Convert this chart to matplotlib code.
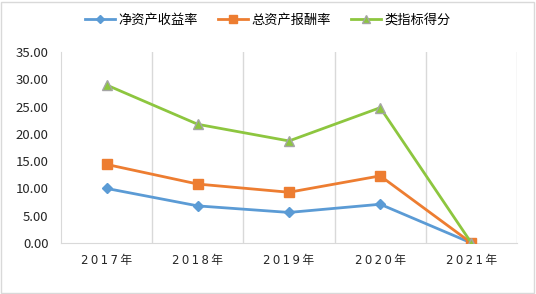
import matplotlib
matplotlib.use("Agg")
import matplotlib.pyplot as plt
from matplotlib.patches import Rectangle

plt.rcParams['font.family'] = ['Noto Sans CJK SC', 'DejaVu Sans']

years = ["2017年", "2018年", "2019年", "2020年", "2021年"]
roe = [10.0, 6.8, 5.6, 7.1, 0.0]
roa = [14.4, 10.8, 9.3, 12.3, 0.0]
score = [28.95, 21.75, 18.7, 24.8, 0.0]

fig = plt.figure(figsize=(5.36, 2.94), dpi=100)
fig.patches.append(Rectangle((0.002, 0.004), 0.994, 0.99, transform=fig.transFigure,
                             fill=False, edgecolor="#d9d9d9", linewidth=1))
ax = fig.add_axes([61 / 536, 1 - 243 / 294, (517 - 61) / 536, (243 - 52) / 294])

x = range(len(years))
ax.plot(x, roe, color="#5B9BD5", lw=2, marker="D", ms=5, label="净资产收益率", zorder=3)
ax.plot(x, roa, color="#ED7D31", lw=2, marker="s", ms=7, label="总资产报酬率", zorder=3)
ax.plot(x, score, color="#8DC63F", lw=2, marker="^", ms=7, mfc="#8DC63F", mec="#A5A5A5",
        label="类指标得分", zorder=3)

ax.set_xlim(-0.5, len(years) - 0.5)
ax.set_ylim(0, 35)
ax.set_yticks([0, 5, 10, 15, 20, 25, 30, 35])
ax.set_yticklabels([f"{v:.2f}" for v in ax.get_yticks()])
ax.set_xticks(list(x))
# letter-spaced year labels like the original
ax.set_xticklabels(["\u2009".join(y) for y in years], family=['DejaVu Sans', 'Noto Sans CJK SC'])
for b in [0.5, 1.5, 2.5, 3.5, 4.5]:
    ax.axvline(b, color="#d9d9d9", lw=1, zorder=1)

for s in ["top", "right"]:
    ax.spines[s].set_visible(False)
for s in ["left", "bottom"]:
    ax.spines[s].set_color("#d9d9d9")
ax.tick_params(axis="both", length=0, colors="#262626")
ax.tick_params(axis="y", pad=9, labelsize=9.5)
ax.tick_params(axis="x", pad=8, labelsize=8.5)

fig.legend(loc="center", bbox_to_anchor=(0.5, 1 - 20 / 294), ncol=3, frameon=False,
           fontsize=9.5, handlelength=2.3, columnspacing=1.5, handletextpad=0.25, markerscale=0.75)

fig.savefig("out.png", dpi=100)
